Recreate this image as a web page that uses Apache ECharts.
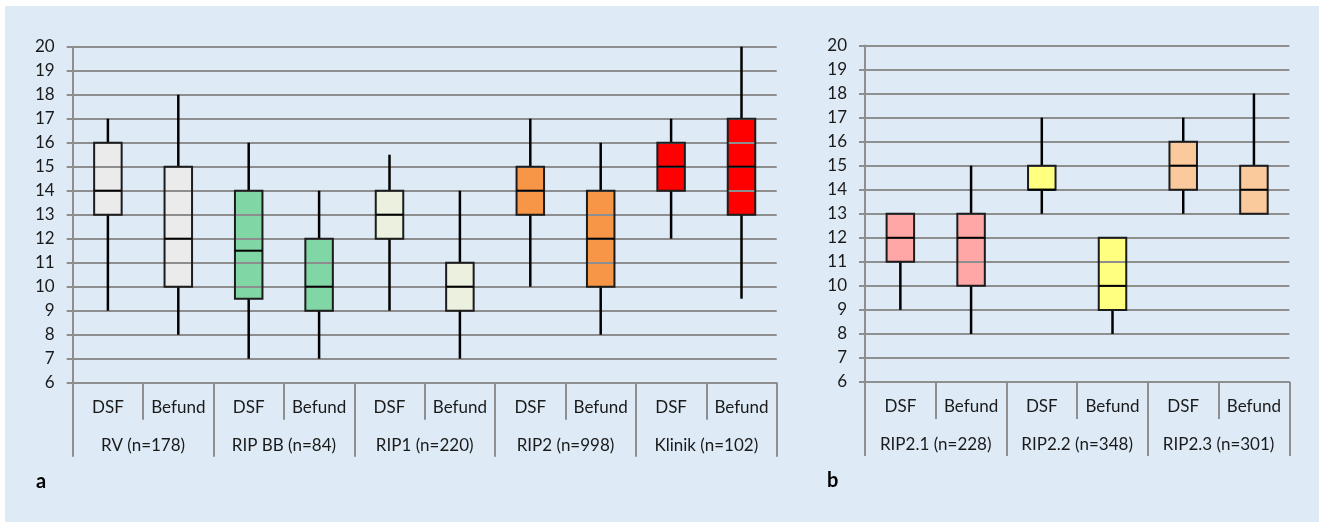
<!DOCTYPE html>
<html>
<head>
<meta charset="utf-8">
<script src="https://cdn.jsdelivr.net/npm/echarts@6/dist/echarts.min.js"></script>
<style>
html,body{margin:0;padding:0;background:#ffffff;}
#bg{position:absolute;left:5px;top:6px;width:1314px;height:516px;background:#deebf7;}
#chart{position:absolute;left:0;top:0;width:1319px;height:522px;}
</style>
</head>
<body>
<div id="bg"></div>
<div id="chart"></div>
<script>
// ---- Panel a data ----
const categoriesA = ['DSF','Befund','DSF','Befund','DSF','Befund','DSF','Befund','DSF','Befund'];
const groupsA = ['RV (n=178)','RIP BB (n=84)','RIP1 (n=220)','RIP2 (n=998)','Klinik (n=102)'];
const minA = [9, 8, 7, 7, 9, 7, 10, 8, 12, 9.5];
const q1A  = [13, 10, 9.5, 9, 12, 9, 13, 10, 14, 13];
const medA = [14, 12, 11.5, 10, 13, 10, 14, 12, 15, 15];
const q3A  = [16, 15, 14, 12, 14, 11, 15, 14, 16, 17];
const maxA = [17, 18, 16, 14, 15.5, 14, 17, 16, 17, 20];
const colorsA = ['#ebebeb','#ebebeb','#80d6a4','#80d6a4','#ebf1de','#ebf1de','#f79646','#f79646','#ff0000','#ff0000'];

// ---- Panel b data ----
const categoriesB = ['DSF','Befund','DSF','Befund','DSF','Befund'];
const groupsB = ['RIP2.1 (n=228)','RIP2.2 (n=348)','RIP2.3 (n=301)'];
const minB = [9, 8, 13, 8, 13, 13];
const q1B  = [11, 10, 14, 9, 14, 13];
const medB = [12, 12, 14, 10, 15, 14];
const q3B  = [13, 13, 15, 12, 16, 15];
const maxB = [13, 15, 17, 12, 17, 18];
const colorsB = ['#ffa6a6','#ffa6a6','#ffff80','#ffff80','#fbca9c','#fbca9c'];

const yTicks = {min: 6, max: 20, interval: 1};

function buildData(mins, q1s, meds, q3s, maxs) {
  return mins.map((m, i) => [i, m, q1s[i], meds[i], q3s[i], maxs[i]]);
}

const FONT = 'Lato';
const GRAY = '#8e8e8e';
const BOX_W = 27.5;

function fillRender(colors) {
  return function (params, api) {
    const i = api.value(0);
    const top = api.coord([i, api.value(4)]);
    const bot = api.coord([i, api.value(2)]);
    return {
      type: 'rect',
      shape: {x: top[0] - BOX_W / 2, y: top[1], width: BOX_W, height: bot[1] - top[1]},
      style: {fill: colors[i], stroke: null}
    };
  };
}
function lineRender() {
  return function (params, api) {
    const i = api.value(0);
    const pMin = api.coord([i, api.value(1)]);
    const pQ1 = api.coord([i, api.value(2)]);
    const pMed = api.coord([i, api.value(3)]);
    const pQ3 = api.coord([i, api.value(4)]);
    const pMax = api.coord([i, api.value(5)]);
    const x = pMin[0];
    const ls = {stroke: '#000000', lineWidth: 2.5};
    const bs = {stroke: '#1c1c1c', lineWidth: 2, fill: null};
    return {
      type: 'group',
      children: [
        {type: 'line', shape: {x1: x, y1: pMin[1], x2: x, y2: pQ1[1]}, style: ls},
        {type: 'line', shape: {x1: x, y1: pQ3[1], x2: x, y2: pMax[1]}, style: ls},
        {type: 'rect', shape: {x: x - BOX_W / 2, y: pQ3[1], width: BOX_W, height: pQ1[1] - pQ3[1]}, style: bs},
        {type: 'line', shape: {x1: x - BOX_W / 2, y1: pMed[1], x2: x + BOX_W / 2, y2: pMed[1]}, style: {stroke: '#000000', lineWidth: 2}}
      ]
    };
  };
}

function yAxis(gridIndex) {
  return {
    type: 'value', gridIndex: gridIndex, min: yTicks.min, max: yTicks.max, interval: yTicks.interval,
    z: 1.5,
    axisLine: {show: true, lineStyle: {color: GRAY, width: 2}},
    axisTick: {show: true, length: 6, lineStyle: {color: GRAY, width: 2}},
    axisLabel: {color: '#1a1a1a', fontFamily: FONT, fontSize: 17, margin: 18},
    splitLine: {show: true, lineStyle: {color: GRAY, width: 2}}
  };
}
function xAxisInner(gridIndex, cats) {
  return {
    type: 'category', gridIndex: gridIndex, data: cats, position: 'bottom', boundaryGap: true,
    axisLine: {show: true, lineStyle: {color: GRAY, width: 2}},
    axisTick: {show: true, interval: 0, length: 37, lineStyle: {color: GRAY, width: 2}},
    axisLabel: {interval: 0, color: '#1a1a1a', fontFamily: FONT, fontSize: 17, margin: 16},
    splitLine: {show: false}
  };
}
function xAxisOuter(gridIndex, groups) {
  return {
    type: 'category', gridIndex: gridIndex, data: groups, position: 'bottom', offset: 0, boundaryGap: true,
    axisLine: {show: false},
    axisTick: {show: true, interval: 0, length: 74, lineStyle: {color: GRAY, width: 2}},
    axisLabel: {interval: 0, color: '#1a1a1a', fontFamily: FONT, fontSize: 17, margin: 54},
    splitLine: {show: false}
  };
}

const chart = echarts.init(document.getElementById('chart'), null, {renderer: 'canvas'});
chart.setOption({
  backgroundColor: 'transparent',
  animation: false,
  grid: [
    {left: 72.7, top: 46.7, width: 704, height: 336},
    {left: 865, top: 45.5, width: 424.3, height: 336.5}
  ],
  xAxis: [
    xAxisInner(0, categoriesA), xAxisOuter(0, groupsA),
    xAxisInner(1, categoriesB), xAxisOuter(1, groupsB)
  ],
  yAxis: [yAxis(0), yAxis(1)],
  series: [
    {type: 'custom', xAxisIndex: 0, yAxisIndex: 0, z: 1, renderItem: fillRender(colorsA),
     data: buildData(minA, q1A, medA, q3A, maxA), encode: {x: 0, y: [1, 2, 3, 4, 5]}},
    {type: 'custom', xAxisIndex: 0, yAxisIndex: 0, z: 3, renderItem: lineRender(),
     data: buildData(minA, q1A, medA, q3A, maxA), encode: {x: 0, y: [1, 2, 3, 4, 5]}},
    {type: 'custom', xAxisIndex: 2, yAxisIndex: 1, z: 1, renderItem: fillRender(colorsB),
     data: buildData(minB, q1B, medB, q3B, maxB), encode: {x: 0, y: [1, 2, 3, 4, 5]}},
    {type: 'custom', xAxisIndex: 2, yAxisIndex: 1, z: 3, renderItem: lineRender(),
     data: buildData(minB, q1B, medB, q3B, maxB), encode: {x: 0, y: [1, 2, 3, 4, 5]}}
  ],
  graphic: [
    {type: 'text', left: 36, top: 472, style: {text: 'a', fontFamily: FONT, fontWeight: 'bold', fontSize: 20, fill: '#000'}},
    {type: 'text', left: 827, top: 471, style: {text: 'b', fontFamily: FONT, fontWeight: 'bold', fontSize: 20, fill: '#000'}}
  ]
});
</script>
</body>
</html>
